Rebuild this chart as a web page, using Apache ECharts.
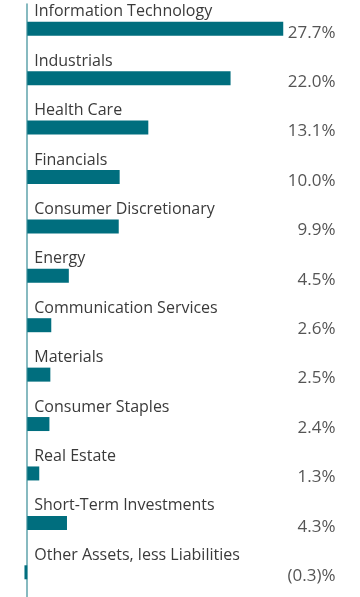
<!DOCTYPE html>
<html>
<head>
<meta charset="utf-8">
<script src="https://cdn.jsdelivr.net/npm/echarts@6/dist/echarts.min.js"></script>
<style>html,body{margin:0;padding:0;background:#fff;}#c{width:360px;height:597px;}</style>
</head>
<body>
<div id="c"></div>
<script>
const categories = ['Information Technology','Industrials','Health Care','Financials','Consumer Discretionary','Energy','Communication Services','Materials','Consumer Staples','Real Estate','Short-Term Investments','Other Assets, less Liabilities'];
const values = [27.7,22.0,13.1,10.0,9.9,4.5,2.6,2.5,2.4,1.3,4.3,-0.3];
const valueLabels = ['27.7%','22.0%','13.1%','10.0%','9.9%','4.5%','2.6%','2.5%','2.4%','1.3%','4.3%','(0.3)%'];

const chart = echarts.init(document.getElementById('c'), null, {renderer:'canvas'});
const FONT = '"Open Sans", sans-serif';
function chartPxPerUnit(){ return (360 - 18 - 55.5) / 31; }
const barData = values.map(function(v){
  if (v < 0) {
    // rect origin for negative bars sits at the bar end; shift label back past the axis
    return {value:v, label:{offset:[-chartPxPerUnit()*v, 0]}};
  }
  return v;
});
chart.setOption({
  animation:false,
  grid:{left:18, right:55.5, top:4, height:602, containLabel:false},
  xAxis:{type:'value', min:-1, max:30, show:false},
  yAxis:[{
    type:'category', data:categories, inverse:true,
    axisLine:{show:true, onZero:true, lineStyle:{color:'#5fa3ab', width:1.5}},
    axisTick:{show:false},
    axisLabel:{show:false}
  },{
    type:'category', data:categories, inverse:true, position:'right',
    axisLine:{show:false}, axisTick:{show:false},
    axisLabel:{align:'right', margin:31, fontFamily:FONT,
      formatter:function(v,i){return '{v|' + valueLabels[i] + '}';},
      rich:{v:{color:'#555', fontSize:17, fontFamily:FONT, padding:[8,0,0,0]}}}
  }],
  series:[{type:'bar', data:barData, barWidth:14, itemStyle:{color:'#006e7e'}, yAxisIndex:0,
    label:{show:true, position:[7,-10], verticalAlign:'middle', align:'left',
      color:'#3a3a3a', fontSize:16, fontFamily:FONT,
      formatter:function(p){return categories[p.dataIndex];}}}]
});
</script>
</body>
</html>
